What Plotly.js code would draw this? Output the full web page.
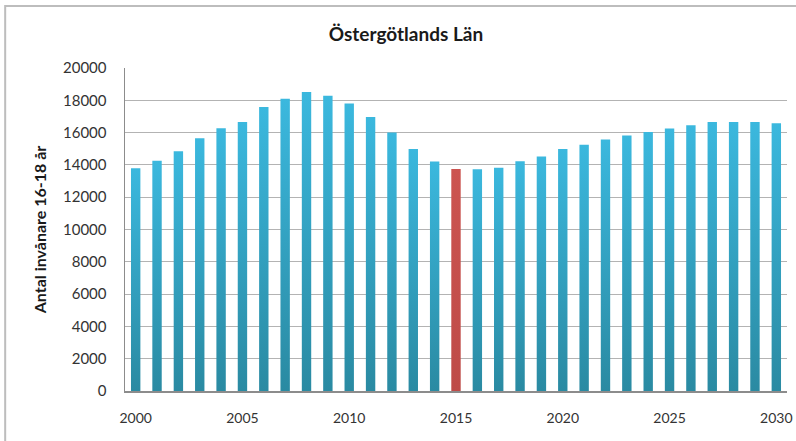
<!DOCTYPE html>
<html>
<head>
<meta charset="utf-8">
<script src="https://cdn.plot.ly/plotly-3.0.1.min.js"></script>
<style>
  html, body { margin: 0; padding: 0; background: #fff; }
  #chart { width: 796px; height: 441px; }
</style>
</head>
<body>
<div id="chart"></div>
<script>
const years = [2000, 2001, 2002, 2003, 2004, 2005, 2006, 2007, 2008, 2009, 2010,
               2011, 2012, 2013, 2014, 2015, 2016, 2017, 2018, 2019, 2020,
               2021, 2022, 2023, 2024, 2025, 2026, 2027, 2028, 2029, 2030];
const values = [13800, 14250, 14850, 15650, 16270, 16650, 17580, 18090, 18520, 18280, 17800,
                16960, 16000, 14990, 14210, 13750, 13730, 13830, 14230, 14520, 14990,
                15240, 15570, 15820, 16030, 16250, 16460, 16650, 16650, 16650, 16580];
const highlightYear = 2015;
const xTickVals = [2000, 2005, 2010, 2015, 2020, 2025, 2030];
const yTickVals = [0, 2000, 4000, 6000, 8000, 10000, 12000, 14000, 16000, 18000, 20000];

const blue = '#33a6c9';
const red = '#c4504d';
const barColors = years.map(y => y === highlightYear ? red : blue);

const trace = {
  type: 'bar',
  x: years,
  y: values,
  marker: { color: barColors, line: { width: 0 } },
  hoverinfo: 'x+y'
};

const fontFam = 'Lato, "Open Sans", sans-serif';

const layout = {
  width: 796,
  height: 441,
  margin: { l: 125, r: 9, t: 68, b: 50 },
  paper_bgcolor: '#ffffff',
  plot_bgcolor: '#ffffff',
  bargap: 0.56,
  showlegend: false,
  title: {
    text: '<b>Östergötlands Län</b>',
    x: 0.51, xref: 'container', xanchor: 'center',
    y: 0.923, yref: 'container', yanchor: 'middle',
    font: { family: fontFam, size: 19, color: '#1a1a1a' }
  },
  xaxis: {
    range: [1999.5, 2030.5],
    tickvals: xTickVals,
    ticktext: xTickVals.map(String),
    showgrid: false,
    zeroline: false,
    showline: true,
    linecolor: '#8c8c8c',
    linewidth: 1.5,
    ticks: '',
    ticklabelstandoff: 14,
    tickfont: { family: fontFam, size: 14, color: '#333333' },
    fixedrange: true
  },
  yaxis: {
    range: [0, 20000],
    tickvals: yTickVals,
    ticktext: yTickVals.map(String),
    showgrid: true,
    gridcolor: '#b3b3b3',
    gridwidth: 1,
    zeroline: false,
    showline: true,
    linecolor: '#8c8c8c',
    linewidth: 1.5,
    ticks: '',
    ticklabelstandoff: 14,
    tickfont: { family: fontFam, size: 15, color: '#333333' },
    title: {
      text: '<b>Antal invånare 16-18 år</b>',
      standoff: 12,
      font: { family: fontFam, size: 16, color: '#1a1a1a' }
    },
    fixedrange: true
  },
  shapes: [
    {
      type: 'rect', xref: 'paper', yref: 'paper',
      x0: -0.181, x1: 1.2, y0: -0.4, y1: 1.192,
      line: { color: '#bdbdbd', width: 2 },
      fillcolor: 'rgba(0,0,0,0)',
      layer: 'below'
    }
  ]
};

Plotly.newPlot('chart', [trace], layout, { displayModeBar: false, staticPlot: true }).then(gd => {
  const svg = gd.querySelector('.main-svg');
  const ns = 'http://www.w3.org/2000/svg';
  let defs = svg.querySelector('defs');
  if (!defs) { defs = document.createElementNS(ns, 'defs'); svg.insertBefore(defs, svg.firstChild); }
  function addGrad(id, top, bottom) {
    const g = document.createElementNS(ns, 'linearGradient');
    g.setAttribute('id', id);
    g.setAttribute('x1', '0'); g.setAttribute('y1', '0');
    g.setAttribute('x2', '0'); g.setAttribute('y2', '1');
    const s1 = document.createElementNS(ns, 'stop');
    s1.setAttribute('offset', '0'); s1.setAttribute('stop-color', top);
    const s2 = document.createElementNS(ns, 'stop');
    s2.setAttribute('offset', '1'); s2.setAttribute('stop-color', bottom);
    g.appendChild(s1); g.appendChild(s2);
    defs.appendChild(g);
  }
  addGrad('gradBlue', '#3bb8de', '#2a8aa2');
  addGrad('gradRed', '#cc5450', '#be4b48');
  const paths = gd.querySelectorAll('.bars .point path');
  paths.forEach((p, i) => {
    p.style.fill = years[i] === highlightYear ? 'url(#gradRed)' : 'url(#gradBlue)';
  });
});
</script>
</body>
</html>
